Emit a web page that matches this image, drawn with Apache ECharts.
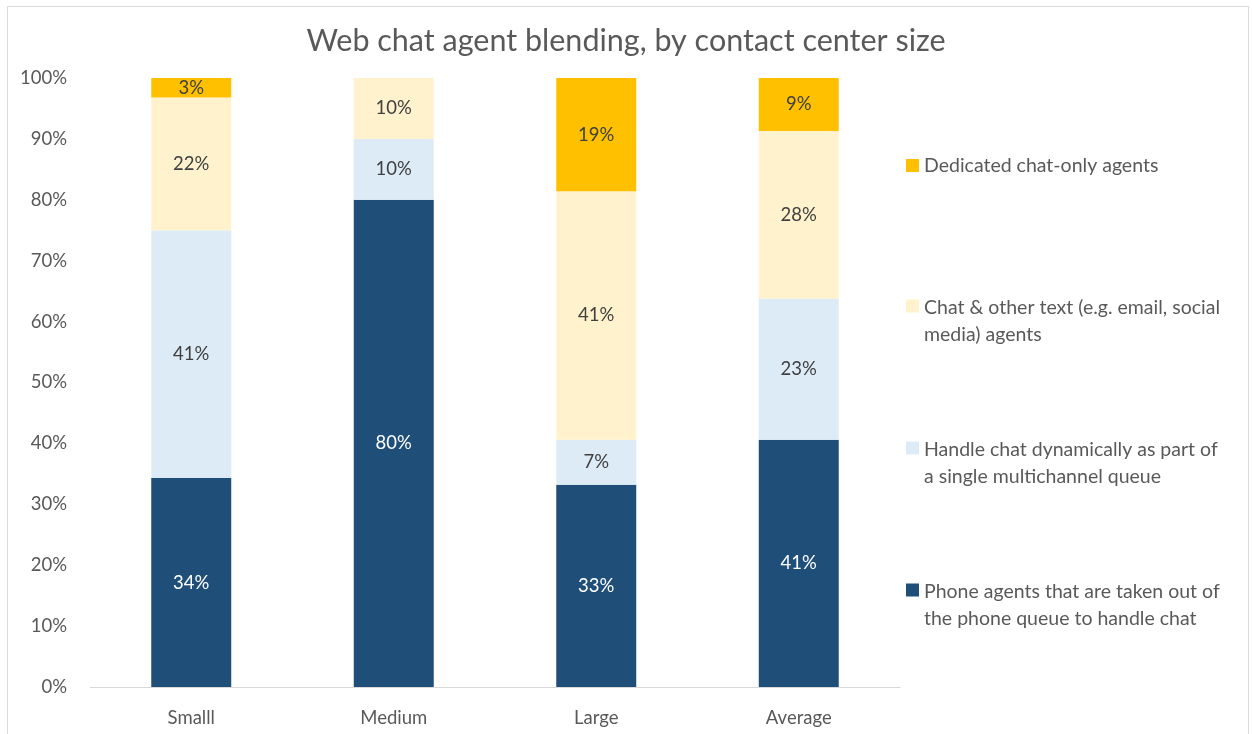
<!DOCTYPE html>
<html>
<head>
<meta charset="utf-8">
<script src="https://cdn.jsdelivr.net/npm/echarts@6/dist/echarts.min.js"></script>
<style>html,body{margin:0;padding:0;background:#fff;}#c{width:1252px;height:734px;}</style>
</head>
<body>
<div id="c"></div>
<script>
const categories = ['Smalll', 'Medium', 'Large', 'Average'];
const phoneAgents = [34.3, 80.0, 33.2, 40.6];
const multichannel = [40.7, 10.0, 7.4, 23.2];
const chatOther = [21.8, 10.0, 40.8, 27.5];
const dedicated = [3.2, 0, 18.6, 8.7];
const seriesNames = [
  'Phone agents that are taken out of\nthe phone queue to handle chat',
  'Handle chat dynamically as part of\na single multichannel queue',
  'Chat & other text (e.g. email, social\nmedia) agents',
  'Dedicated chat-only agents'
];
const yTicks = [0, 10, 20, 30, 40, 50, 60, 70, 80, 90, 100];

const colors = ['#1F4E79', '#DDEBF7', '#FFF2CC', '#FFC000'];
const labelColors = ['#ffffff', '#404040', '#404040', '#404040'];
const FONT = 'Lato';

const dataSets = [phoneAgents, multichannel, chatOther, dedicated];
const series = dataSets.map((d, i) => ({
  name: seriesNames[i],
  type: 'bar',
  stack: 'total',
  barWidth: '39.5%',
  data: d,
  itemStyle: { color: colors[i] },
  label: {
    show: true,
    position: 'inside',
    color: labelColors[i],
    fontFamily: FONT,
    fontSize: 18.5,
    formatter: p => p.value > 0 ? Math.round(p.value) + '%' : ''
  }
}));

const legendTops = [152, 294, 436, 578];
const legends = [3, 2, 1, 0].map((si, k) => ({
  show: true,
  orient: 'vertical',
  left: 906,
  top: legendTops[k],
  padding: 0,
  itemWidth: 13,
  itemHeight: si === 3 ? 13 : 43,
  itemGap: 0,
  selectedMode: false,
  data: [{ name: seriesNames[si], icon: si === 3 ? 'rect' : 'path://M0,0L13,0L13,13L0,13Z M0,43L0,43Z' }],
  textStyle: { fontFamily: FONT, fontSize: 19.5, color: '#595959', lineHeight: 27 }
}));

const chart = echarts.init(document.getElementById('c'));
chart.setOption({
  animation: false,
  backgroundColor: '#ffffff',
  title: {
    text: 'Web chat agent blending, by contact center size',
    left: 'center',
    top: 21,
    textStyle: { fontFamily: FONT, fontWeight: 'normal', fontSize: 30.5, color: '#595959' }
  },
  legend: legends,
  grid: { left: 90, right: 352, top: 78, bottom: 47 },
  xAxis: {
    type: 'category',
    data: categories,
    axisLine: { lineStyle: { color: '#D9D9D9', width: 1 } },
    axisTick: { show: false },
    axisLabel: { fontFamily: FONT, fontSize: 18.5, color: '#595959', margin: 22 }
  },
  yAxis: {
    type: 'value',
    min: yTicks[0],
    max: yTicks[yTicks.length - 1],
    interval: yTicks[1] - yTicks[0],
    axisLine: { show: false },
    axisTick: { show: false },
    splitLine: { show: false },
    axisLabel: { fontFamily: FONT, fontSize: 18.5, color: '#595959', margin: 23, formatter: '{value}%' }
  },
  graphic: [{
    type: 'rect',
    shape: { x: 7.5, y: 6.5, width: 1241, height: 740 },
    style: { fill: 'none', stroke: '#D9D9D9', lineWidth: 1 },
    silent: true
  }],
  series: series
});
</script>
</body>
</html>
